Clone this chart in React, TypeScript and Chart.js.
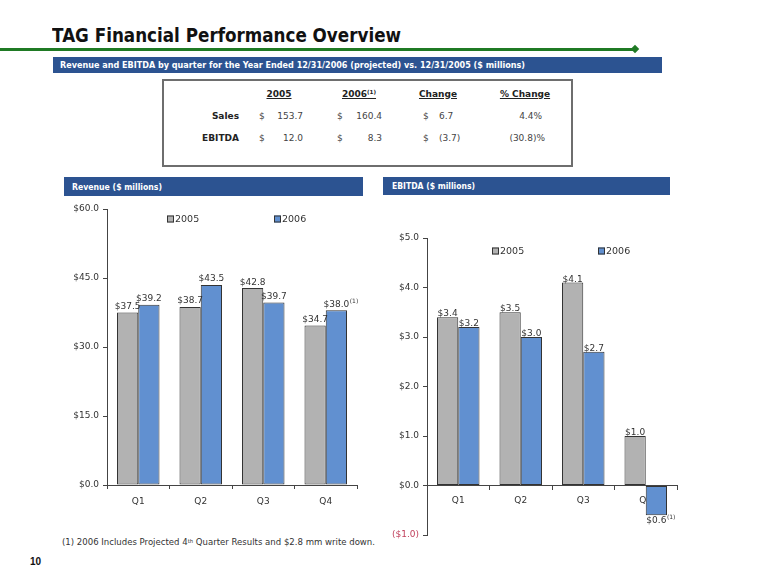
import React, { useEffect, useLayoutEffect, useRef } from 'react';
import { Chart, registerables } from 'chart.js';

Chart.register(...registerables);

// ---------- data ----------
const quarters = ['Q1', 'Q2', 'Q3', 'Q4'];
const seriesNames = ['2005', '2006'];
const revenue2005 = [37.5, 38.7, 42.8, 34.7];
const revenue2006 = [39.2, 43.5, 39.7, 38.0];
const revenueNote2006 = [false, false, false, true];
const ebitda2005 = [3.4, 3.5, 4.1, 1.0];
const ebitda2006 = [3.2, 3.0, 2.7, -0.6];
const ebitdaNote2006 = [false, false, false, true];
const revenueAxis = [0, 60, 15]; // min, max, step
const ebitdaAxis = [-1, 5, 1];

const tableHeaders = ['2005', '2006', 'Change', '% Change'];
const tableRowNames = ['Sales', 'EBITDA'];
const salesRow = ['153.7', '160.4', '6.7', '4.4%'];
const ebitdaRow = ['12.0', '8.3', '(3.7)', '(30.8)%'];

// ---------- style ----------
const FONT = '"DejaVu Sans", Verdana, sans-serif';
const GREY = '#b2b2b2';
const BLUE = '#6190d0';
const EDGE = '#333333';
const BANNER = '#2c5391';
const TXT = '#333333';

type FitProps = {
  x: number; y: number; w?: number; size: number; weight?: number | string;
  color?: string; family?: string; children: React.ReactNode;
};

function Fit({ x, y, w, size, weight = 400, color = TXT, family = FONT, children }: FitProps) {
  const ref = useRef<HTMLSpanElement>(null);
  useLayoutEffect(() => {
    const el = ref.current;
    if (!el || !w) return;
    const fit = () => {
      el.style.transform = 'none';
      const nat = el.getBoundingClientRect().width;
      if (nat > 0) el.style.transform = `scaleX(${w / nat})`;
    };
    fit();
    if ((document as any).fonts && (document as any).fonts.ready) (document as any).fonts.ready.then(fit);
  }, [w]);
  return (
    <span
      ref={ref}
      style={{
        position: 'absolute', left: x, top: y - size * 0.6, fontSize: size, lineHeight: `${size * 1.2}px`,
        fontWeight: weight as any, color, fontFamily: family, whiteSpace: 'nowrap', transformOrigin: 'left center',
      }}
    >
      {children}
    </span>
  );
}

type TProps = {
  x: number; y: number; size?: number; weight?: number | string; color?: string;
  align?: 'left' | 'right' | 'center'; underline?: boolean; children: React.ReactNode;
};
function T({ x, y, size = 9, weight = 400, color = TXT, align = 'left', underline, children }: TProps) {
  const st: React.CSSProperties = {
    position: 'absolute', top: y - size * 0.6, fontSize: size, lineHeight: `${size * 1.2}px`,
    fontWeight: weight as any, color, fontFamily: FONT, whiteSpace: 'nowrap',
    textDecoration: underline ? 'underline' : 'none',
  };
  if (align === 'left') st.left = x;
  else if (align === 'right') st.right = 758 - x;
  else { st.left = x; st.transform = 'translateX(-50%)'; }
  return <span style={st}>{children}</span>;
}

// ---------- plugins ----------
const valueLabels = {
  id: 'valueLabels',
  afterDatasetsDraw(chart: any, _a: any, opts: any) {
    const ctx = chart.ctx;
    ctx.save();
    chart.data.datasets.forEach((ds: any, di: number) => {
      const meta = chart.getDatasetMeta(di);
      meta.data.forEach((bar: any, i: number) => {
        const v = ds.data[i] as number;
        const txt = '$' + Math.abs(v).toFixed(1);
        ctx.font = `9px ${FONT}`;
        ctx.fillStyle = TXT;
        ctx.textAlign = 'center';
        ctx.textBaseline = 'alphabetic';
        const y = v >= 0 ? bar.y - opts.gap : bar.y + 8;
        ctx.fillText(txt, bar.x, y);
        const notes = opts.notes && opts.notes[di];
        if (notes && notes[i]) {
          const w = ctx.measureText(txt).width;
          ctx.font = `6px ${FONT}`;
          ctx.textAlign = 'left';
          ctx.fillText('(1)', bar.x + w / 2 + 0.5, y - 4);
        }
      });
    });
    ctx.restore();
  },
};

const boxLegend = {
  id: 'boxLegend',
  afterDraw(chart: any, _a: any, opts: any) {
    const ctx = chart.ctx;
    const area = chart.chartArea;
    ctx.save();
    chart.data.datasets.forEach((ds: any, di: number) => {
      const it = opts.items[di];
      const x = area.left + it.dx;
      const y = area.top + it.dy;
      ctx.fillStyle = ds.backgroundColor;
      ctx.fillRect(x, y - 3.5, 7, 7);
      ctx.strokeStyle = EDGE;
      ctx.lineWidth = 1;
      ctx.strokeRect(x + 0.5, y - 3, 6, 6);
      ctx.fillStyle = TXT;
      ctx.font = `9.5px ${FONT}`;
      ctx.textAlign = 'left';
      ctx.textBaseline = 'middle';
      ctx.fillText(ds.label, x + 8, y + 0.5);
    });
    ctx.restore();
  },
};

function money(v: number) {
  return v < 0 ? `($${Math.abs(v).toFixed(1)})` : `$${v.toFixed(1)}`;
}

function barChartConfig(
  a: number[], b: number[], notes: boolean[], axis: number[], centered: boolean,
  padTop: number, padBottom: number, gap: number, legendItems: any[],
): any {
  const tickFont = { family: FONT, size: 9 };
  return {
    type: 'bar',
    data: {
      labels: quarters,
      datasets: [
        { label: seriesNames[0], data: a, backgroundColor: GREY, borderColor: EDGE, borderWidth: 1 },
        { label: seriesNames[1], data: b, backgroundColor: BLUE, borderColor: EDGE, borderWidth: 1 },
      ],
    },
    options: {
      animation: false,
      responsive: false,
      maintainAspectRatio: false,
      layout: { padding: { top: padTop, right: 3, left: 0, bottom: padBottom } },
      datasets: { bar: { categoryPercentage: 0.68, barPercentage: 1.0, borderSkipped: false } },
      plugins: {
        legend: { display: false },
        tooltip: { enabled: false },
        valueLabels: { gap, notes: [null, notes] },
        boxLegend: { items: legendItems },
      },
      scales: {
        x: {
          position: centered ? { y: 0 } : 'bottom',
          grid: { display: true, drawOnChartArea: false, offset: true, tickLength: 4, color: '#444' },
          border: { display: true, color: '#444', width: 1 },
          ticks: { font: tickFont, color: TXT, padding: centered ? 6 : 7 },
          afterFit: centered ? undefined : (s: any) => { s.height = 25; },
        },
        y: {
          min: axis[0], max: axis[1],
          grid: { display: true, drawOnChartArea: false, tickLength: 4, color: '#444' },
          border: { display: true, color: '#444', width: 1 },
          ticks: {
            stepSize: axis[2], font: tickFont, padding: 4,
            color: (c: any) => (c.tick && c.tick.value < 0 ? '#c0405c' : TXT),
            callback: (v: any) => money(Number(v)),
          },
          afterFit: (s: any) => { s.width = 47; },
        },
      },
    },
    plugins: [valueLabels, boxLegend],
  };
}

function BarCanvas({ left, top, width, height, config }: { left: number; top: number; width: number; height: number; config: () => any }) {
  const ref = useRef<HTMLCanvasElement>(null);
  useEffect(() => {
    if (!ref.current) return;
    const chart = new Chart(ref.current, config());
    return () => chart.destroy();
  }, []);
  return (
    <canvas
      ref={ref}
      width={width}
      height={height}
      style={{ position: 'absolute', left, top, width, height }}
    />
  );
}

const Sup = ({ children }: { children: React.ReactNode }) => (
  <span style={{ fontSize: '0.62em', position: 'relative', top: '-0.45em' }}>{children}</span>
);

export default function App() {
  const rows = [salesRow, ebitdaRow];
  const rowY = [116, 138];
  return (
    <div style={{ position: 'absolute', left: 0, top: 0, width: 758, height: 587, background: '#fff', overflow: 'hidden', fontFamily: FONT }}>
      {/* title */}
      <Fit x={52} y={35} w={349} size={19} weight={700} color="#111">TAG Financial Performance Overview</Fit>
      <div style={{ position: 'absolute', left: 0, top: 48, width: 635, height: 2.5, background: '#1f7a24' }} />
      <div style={{ position: 'absolute', left: 632, top: 46, width: 6, height: 6, background: '#1f7a24', transform: 'rotate(45deg)' }} />

      {/* top banner */}
      <div style={{ position: 'absolute', left: 53, top: 57, width: 609, height: 16, background: BANNER }} />
      <Fit x={60} y={65} w={465} size={9} weight={700} color="#fff">
        Revenue and EBITDA by quarter for the Year Ended 12/31/2006 (projected) vs. 12/31/2005 ($ millions)
      </Fit>

      {/* summary table */}
      <div style={{ position: 'absolute', left: 162, top: 79, width: 407, height: 84, border: '2px solid #6e6e6e' }} />
      <T x={279} y={94} weight={700} color="#222" align="center" underline>{tableHeaders[0]}</T>
      <T x={359} y={94} weight={700} color="#222" align="center" underline>{tableHeaders[1]}<Sup>(1)</Sup></T>
      <T x={438} y={94} weight={700} color="#222" align="center" underline>{tableHeaders[2]}</T>
      <T x={525} y={94} weight={700} color="#222" align="center" underline>{tableHeaders[3]}</T>
      {tableRowNames.map((n, r) => (
        <React.Fragment key={n}>
          <T x={239} y={rowY[r]} weight={700} color="#222" align="right">{n}</T>
          <T x={259} y={rowY[r]} color="#444">$</T>
          <T x={303} y={rowY[r]} color="#444" align="right">{rows[r][0]}</T>
          <T x={337} y={rowY[r]} color="#444">$</T>
          <T x={382} y={rowY[r]} color="#444" align="right">{rows[r][1]}</T>
          <T x={423} y={rowY[r]} color="#444">$</T>
          <T x={439} y={rowY[r]} color="#444">{rows[r][2]}</T>
          <T x={r === 0 ? 542 : 545} y={rowY[r]} color="#444" align="right">{rows[r][3]}</T>
        </React.Fragment>
      ))}

      {/* section banners */}
      <div style={{ position: 'absolute', left: 64, top: 177, width: 299, height: 19, background: BANNER }} />
      <Fit x={72} y={187} w={90} size={9} weight={700} color="#fff">Revenue ($ millions)</Fit>
      <div style={{ position: 'absolute', left: 383, top: 177, width: 287, height: 18, background: BANNER }} />
      <Fit x={392} y={186} w={83} size={9} weight={700} color="#fff">EBITDA ($ millions)</Fit>

      {/* charts */}
      <BarCanvas
        left={60} top={196} width={300} height={314}
        config={() => barChartConfig(revenue2005, revenue2006, revenueNote2006, revenueAxis, false, 13, 0, 3.5,
          [{ dx: 60, dy: 10 }, { dx: 167, dy: 10 }])}
      />
      <BarCanvas
        left={380} top={196} width={300} height={349}
        config={() => barChartConfig(ebitda2005, ebitda2006, ebitdaNote2006, ebitdaAxis, true, 42, 10, 1,
          [{ dx: 65, dy: 13 }, { dx: 171, dy: 13 }])}
      />

      {/* footnote */}
      <Fit x={62} y={542} w={313} size={8.5} color={TXT}>
        (1) 2006 Includes Projected 4<Sup>th</Sup> Quarter Results and $2.8 mm write down.
      </Fit>
      <T x={30} y={562} size={10} weight={700} color="#111">
        <span style={{ fontFamily: '"Liberation Sans", Arial, sans-serif' }}>10</span>
      </T>
    </div>
  );
}
